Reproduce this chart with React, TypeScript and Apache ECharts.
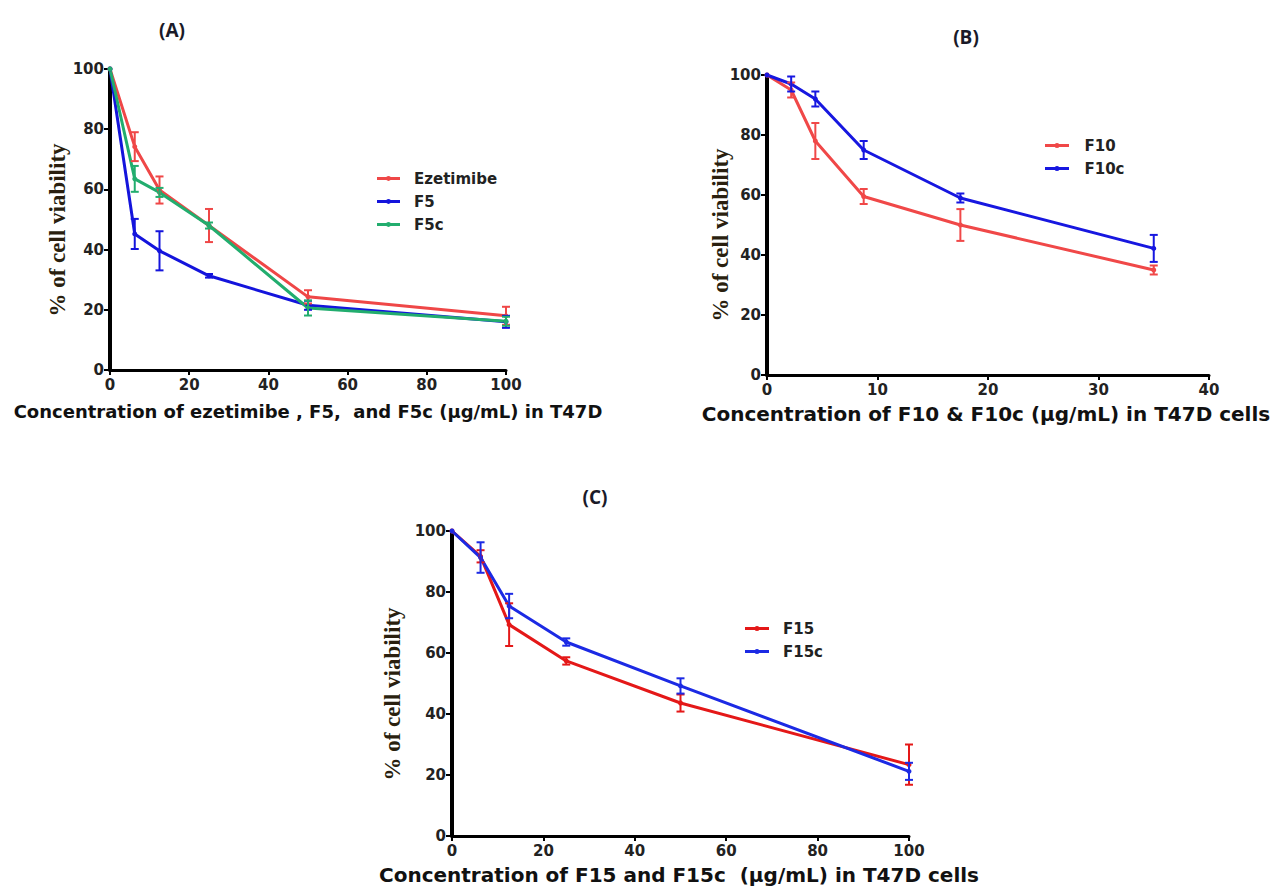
import React, { useEffect, useRef } from "react";
import * as echarts from "echarts";

// Panel A
const xA = [0, 6.25, 12.5, 25, 50, 100];
const ezetimibe = [100, 74.2, 59.8, 48, 24.3, 18];
const ezetimibeErr = [0, 4.8, 4.5, 5.5, 2.2, 3];
const f5 = [100, 45.2, 39.6, 31.3, 21.5, 16];
const f5Err = [0, 5, 6.5, 0.6, 1.5, 2];
const f5c = [100, 63.5, 59, 48, 20.6, 16.2];
const f5cErr = [0, 4.3, 1.5, 1, 2.5, 1.5];

// Panel B
const xB = [0, 2.1875, 4.375, 8.75, 17.5, 35];
const f10 = [100, 95, 78, 59.5, 50, 35];
const f10Err = [0, 2.5, 6, 2.5, 5.3, 1.5];
const f10c = [100, 97, 92, 75, 59, 42.2];
const f10cErr = [0, 2.5, 2.5, 3, 1.5, 4.5];

// Panel C
const xC = [0, 6.25, 12.5, 25, 50, 100];
const f15 = [100, 91.7, 69.3, 57.4, 43.6, 23.4];
const f15Err = [0, 2, 7, 1.2, 2.8, 6.6];
const f15c = [100, 91.3, 75.4, 63.6, 49.2, 21.2];
const f15cErr = [0, 5, 4, 1.2, 2.5, 2.8];

const yTicks = { min: 0, max: 100, interval: 20 };
const xTicksA = { min: 0, max: 100, interval: 20 };
const xTicksB = { min: 0, max: 40, interval: 10 };
const xTicksC = { min: 0, max: 100, interval: 20 };

const labelFont = {
  fontFamily: "DejaVu Sans",
  fontWeight: "bold" as const,
  fontSize: 15,
  color: "#222",
};

function makeX(idx: number, t: { min: number; max: number; interval: number }) {
  return {
    type: "value",
    gridIndex: idx,
    ...t,
    axisLine: { lineStyle: { color: "#000", width: 3 } },
    axisTick: { length: 5, lineStyle: { color: "#000", width: 2 } },
    axisLabel: { ...labelFont, margin: 7 },
    splitLine: { show: false },
  };
}
function makeY(idx: number) {
  return {
    type: "value",
    gridIndex: idx,
    ...yTicks,
    axisLine: { show: true, lineStyle: { color: "#000", width: 4 } },
    axisTick: { show: true, length: 6, lineStyle: { color: "#000", width: 2 } },
    axisLabel: { ...labelFont, margin: 6 },
    splitLine: { show: false },
  };
}

function lineSeries(name: string, xs: number[], ys: number[], color: string, idx: number) {
  return {
    name,
    type: "line",
    xAxisIndex: idx,
    yAxisIndex: idx,
    data: xs.map((x, i) => [x, ys[i]]),
    lineStyle: { color, width: 3 },
    itemStyle: { color },
    symbol: "circle",
    symbolSize: 5,
    z: 3,
  };
}

function errSeries(name: string, xs: number[], ys: number[], es: number[], color: string, idx: number) {
  const data = xs
    .map((x, i) => [x, ys[i] - es[i], ys[i] + es[i], es[i]])
    .filter((d) => d[3] > 0);
  return {
    name: name + " error",
    type: "custom",
    xAxisIndex: idx,
    yAxisIndex: idx,
    silent: true,
    z: 4,
    data,
    renderItem: (params: any, api: any) => {
      const lo = api.coord([api.value(0), api.value(1)]);
      const hi = api.coord([api.value(0), api.value(2)]);
      const hw = 4;
      const st = { stroke: color, lineWidth: 2 };
      return {
        type: "group",
        children: [
          { type: "line", shape: { x1: lo[0], y1: lo[1], x2: hi[0], y2: hi[1] }, style: st },
          { type: "line", shape: { x1: lo[0] - hw, y1: lo[1], x2: lo[0] + hw, y2: lo[1] }, style: st },
          { type: "line", shape: { x1: hi[0] - hw, y1: hi[1], x2: hi[0] + hw, y2: hi[1] }, style: st },
        ],
      };
    },
  };
}

const legendIcon =
  "path://M0,1H24V4H0Z M9.5,2.5a2.5,2.5 0 1,1 5,0a2.5,2.5 0 1,1 -5,0Z";

function legendText(pad: number) {
  return {
    fontFamily: "DejaVu Sans",
    fontWeight: "bold" as const,
    fontSize: 15,
    color: "#222",
    padding: [0, 0, 0, pad],
  };
}

const RED_A = "#ef4747";
const BLUE_A = "#1414dc";
const GREEN_A = "#22ad6e";
const RED_B = "#f04848";
const BLUE_B = "#1717e0";
const RED_C = "#e41818";
const BLUE_C = "#1c2ae4";

const yTitleStyle = {
  text: "% of cell viability",
  fontFamily: "Liberation Serif",
  fontWeight: "bold",
  fontSize: 23,
  fill: "#2a1f0f",
  align: "center",
  verticalAlign: "middle",
};

const panelTitle = {
  fontFamily: "Open Sans",
  fontWeight: "bold",
  fontSize: 19,
  fill: "#1a1a28",
  align: "center",
  verticalAlign: "middle",
};

export default function App() {
  const ref = useRef<HTMLDivElement>(null);
  useEffect(() => {
    if (!ref.current) return;
    const chart = echarts.init(ref.current, null, { renderer: "svg" });
    chart.setOption({
      animation: false,
      backgroundColor: "#fff",
      grid: [
        { left: 110, top: 69, width: 396, height: 301 },
        { left: 767, top: 75, width: 442, height: 300 },
        { left: 452, top: 531, width: 457, height: 305 },
      ],
      xAxis: [makeX(0, xTicksA), makeX(1, xTicksB), makeX(2, xTicksC)],
      yAxis: [makeY(0), makeY(1), makeY(2)],
      legend: [
        {
          data: ["Ezetimibe", "F5", "F5c"],
          orient: "vertical",
          left: 372,
          top: 166,
          icon: legendIcon,
          itemWidth: 23,
          itemHeight: 5,
          itemGap: 8,
          textStyle: legendText(9),
          selectedMode: false,
        },
        {
          data: ["F10", "F10c"],
          orient: "vertical",
          left: 1040,
          top: 133,
          icon: legendIcon,
          itemWidth: 25,
          itemHeight: 5,
          itemGap: 8,
          textStyle: legendText(10),
          selectedMode: false,
        },
        {
          data: ["F15", "F15c"],
          orient: "vertical",
          left: 740,
          top: 616,
          icon: legendIcon,
          itemWidth: 26,
          itemHeight: 5,
          itemGap: 8,
          textStyle: legendText(8),
          selectedMode: false,
        },
      ],
      series: [
        lineSeries("Ezetimibe", xA, ezetimibe, RED_A, 0),
        errSeries("Ezetimibe", xA, ezetimibe, ezetimibeErr, RED_A, 0),
        lineSeries("F5", xA, f5, BLUE_A, 0),
        errSeries("F5", xA, f5, f5Err, BLUE_A, 0),
        lineSeries("F5c", xA, f5c, GREEN_A, 0),
        errSeries("F5c", xA, f5c, f5cErr, GREEN_A, 0),
        lineSeries("F10", xB, f10, RED_B, 1),
        errSeries("F10", xB, f10, f10Err, RED_B, 1),
        lineSeries("F10c", xB, f10c, BLUE_B, 1),
        errSeries("F10c", xB, f10c, f10cErr, BLUE_B, 1),
        lineSeries("F15", xC, f15, RED_C, 2),
        errSeries("F15", xC, f15, f15Err, RED_C, 2),
        lineSeries("F15c", xC, f15c, BLUE_C, 2),
        errSeries("F15c", xC, f15c, f15cErr, BLUE_C, 2),
      ],
      graphic: [
        { type: "text", x: 172, y: 30, style: { text: "(A)", ...panelTitle } },
        { type: "text", x: 966, y: 37, style: { text: "(B)", ...panelTitle } },
        { type: "text", x: 595, y: 497, style: { text: "(C)", ...panelTitle } },
        { type: "text", x: 57, y: 230, rotation: Math.PI / 2, style: { ...yTitleStyle } },
        { type: "text", x: 720, y: 235, rotation: Math.PI / 2, style: { ...yTitleStyle } },
        { type: "text", x: 392, y: 694, rotation: Math.PI / 2, style: { ...yTitleStyle } },
        { type: "text", x: 308, y: 411, style: { text: "Concentration of ezetimibe , F5,  and F5c (\u00b5g/mL) in T47D", fontFamily: "DejaVu Sans", fontWeight: "bold", fontSize: 18, fill: "#111", align: "center", verticalAlign: "middle" } },
        { type: "text", x: 986, y: 414, style: { text: "Concentration of F10 & F10c (\u00b5g/mL) in T47D cells", fontFamily: "DejaVu Sans", fontWeight: "bold", fontSize: 20, fill: "#111", align: "center", verticalAlign: "middle" } },
        { type: "text", x: 679, y: 875, style: { text: "Concentration of F15 and F15c  (\u00b5g/mL) in T47D cells", fontFamily: "DejaVu Sans", fontWeight: "bold", fontSize: 20, fill: "#111", align: "center", verticalAlign: "middle" } },
      ],
    });
    return () => chart.dispose();
  }, []);
  return (
    <div
      ref={ref}
      style={{ position: "absolute", left: 0, top: 0, width: 1286, height: 890, background: "#fff" }}
    />
  );
}
